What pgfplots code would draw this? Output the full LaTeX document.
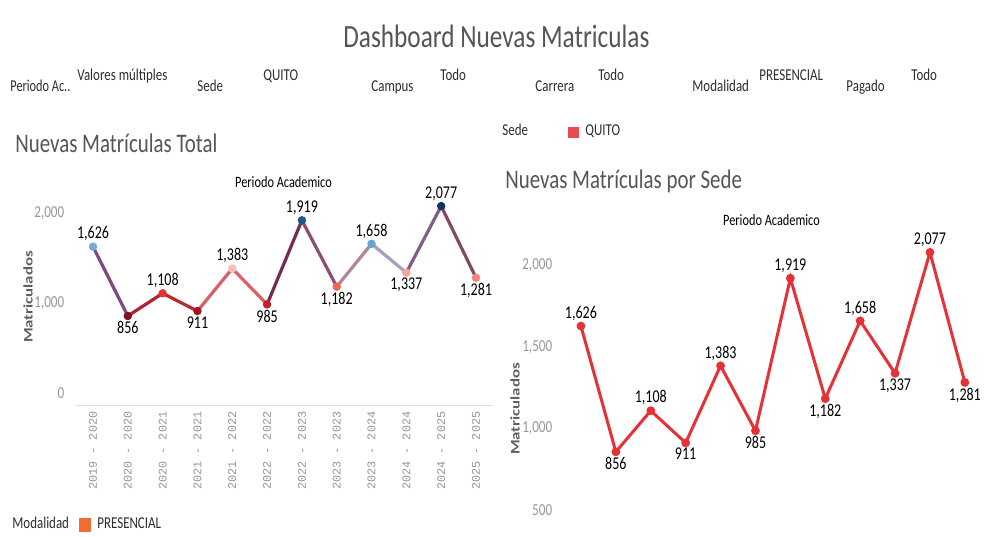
\documentclass[border=0pt]{standalone}
\usepackage{fontspec}
\setmainfont{Carlito}
\newfontfamily\monofont{Liberation Mono}
\usepackage{graphicx}
\usepackage{pgfplots}
\pgfplotsset{compat=1.18}
\usepackage{pgfplotstable}

\definecolor{quito}{RGB}{230,50,55}
\definecolor{quitoleg}{RGB}{235,75,80}
\definecolor{presencial}{RGB}{240,110,50}
\definecolor{titlegray}{RGB}{85,85,85}
\definecolor{tickgray}{RGB}{150,150,150}
\definecolor{labelgray}{RGB}{95,95,95}
\definecolor{filtertext}{RGB}{45,45,45}

% squeeze text horizontally, the reference is narrow
\newcommand{\sq}[1]{\scalebox{0.78}[1]{#1}}

\pgfplotstableread{
idx val
0 1626
1 856
2 1108
3 911
4 1383
5 985
6 1919
7 1182
8 1658
9 1337
10 2077
11 1281
}\matr

\pgfplotsset{
  % red-blue scale by value, for the points
  colormap={tabdiv}{
    rgb255(0cm)=(125,15,40) rgb255(10cm)=(195,30,45) rgb255(20cm)=(222,50,52)
    rgb255(27cm)=(238,105,85) rgb255(35cm)=(240,135,118) rgb255(43cm)=(245,188,185)
    rgb255(52cm)=(225,215,225) rgb255(63cm)=(115,172,212) rgb255(66cm)=(100,165,208)
    rgb255(87cm)=(32,88,138) rgb255(100cm)=(20,50,90)},
  % colour of each segment, a blend of its two ends
  colormap={segcols}{rgb255=(125,75,125) rgb255=(175,35,48) rgb255=(190,38,48)
    rgb255=(215,95,105) rgb255=(225,95,105) rgb255=(115,45,85) rgb255=(140,80,110)
    rgb255=(175,135,150) rgb255=(165,160,190) rgb255=(130,95,130) rgb255=(130,75,100)
    rgb255=(240,130,110)},
  dash/.style={
    scale only axis,
    xmin=-0.5, xmax=11.5,
    axis lines=left,
    axis line style={-},
    y axis line style={draw=none},
    tick style={draw=none},
    yticklabel={\sq{\pgfmathprintnumber[assume math mode=true,1000 sep={,}]{\tick}}},
    yticklabel style={font=\fontsize{8.4}{10}\selectfont, text=tickgray},
    clip=false,
    unbounded coords=discard,
  },
  % value labels: peaks (even index) above, dips (odd index) below
  lbl/.style={
    draw=none, mark=none, point meta=y,
    nodes near coords={\sq{\pgfmathprintnumber[assume math mode=true,1000 sep={,}]{\pgfplotspointmeta}}},
    every node near coord/.append style={anchor=#1, text=black,
      font=\fontsize{9}{10}\selectfont, inner sep=2.5pt},
  },
  even/.style={x filter/.expression={mod(\coordindex,2)==0 ? x : nan}},
  odd/.style={x filter/.expression={mod(\coordindex,2)==1 ? x : nan}},
}

\begin{document}
\begin{tikzpicture}
\path[use as bounding box] (0,0) rectangle (497.5pt,-268pt);

\begin{scope}[x=0.5pt,y=-0.5pt]
  \node[anchor=base west, inner sep=0, text=titlegray, font=\fontsize{16.2}{18}\selectfont] at (343,47) {\sq{Dashboard Nuevas Matriculas}};
  \node[anchor=base west, inner sep=0, text=titlegray, font=\fontsize{13.4}{15}\selectfont] at (15,152) {\sq{Nuevas Matrículas Total}};
  \node[anchor=base west, inner sep=0, text=titlegray, font=\fontsize{13.4}{15}\selectfont] at (505,188) {\sq{Nuevas Matrículas por Sede}};

  \begin{scope}[every node/.style={anchor=base west, inner sep=0, text=filtertext, font=\fontsize{8.3}{10}\selectfont}]
    \node at (10,91) {\scalebox{0.74}[1]{Periodo Ac..}};
    \node at (77,80) {\sq{Valores múltiples}};
    \node at (197,91) {\sq{Sede}};
    \node at (263,80) {\sq{QUITO}};
    \node at (371,91) {\sq{Campus}};
    \node at (440,80) {\sq{Todo}};
    \node at (535,91) {\sq{Carrera}};
    \node at (598,80) {\sq{Todo}};
    \node at (692,91) {\sq{Modalidad}};
    \node at (759,80) {\sq{PRESENCIAL}};
    \node at (846,91) {\sq{Pagado}};
    \node at (911,80) {\sq{Todo}};
    \node at (502,135) {\sq{Sede}};
    \node at (585,135) {\sq{QUITO}};
    \node at (12,528) {\sq{Modalidad}};
    \node at (97,528) {\sq{PRESENCIAL}};
  \end{scope}
  \fill[quitoleg] (568,127) rectangle (579,138);
  \fill[presencial] (79,518) rectangle (91,532);

  \node[anchor=base, inner sep=0, text=black, font=\fontsize{7.9}{9}\selectfont] at (283.5,187) {\sq{Periodo Academico}};
  \node[anchor=base, inner sep=0, text=black, font=\fontsize{7.9}{9}\selectfont] at (771.5,225) {\sq{Periodo Academico}};
  \node[rotate=90, inner sep=0, text=labelgray, font=\bfseries\fontsize{8.4}{10}\selectfont] at (28,297) {\scalebox{1}[0.78]{Matriculados}};
  \node[rotate=90, inner sep=0, text=labelgray, font=\bfseries\fontsize{8.4}{10}\selectfont] at (515,409) {\scalebox{1}[0.78]{Matriculados}};
\end{scope}

% left: total
\begin{axis}[dash,
  at={(37.8pt,-202.5pt)}, anchor=south west,
  width=208.9pt, height=105pt,
  ymin=-133, ymax=2200,
  ytick={0,1000,2000},
  x axis line style={draw=black!12},
  xtick={0,...,11},
  xticklabels={2019 - 2020,2020 - 2020,2020 - 2021,2021 - 2021,2021 - 2022,2022 - 2022,2022 - 2023,2023 - 2023,2023 - 2024,2024 - 2024,2024 - 2025,2025 - 2025},
  xticklabel style={rotate=90, anchor=east, font=\monofont\fontsize{5.9}{7}\selectfont, text=tickgray, inner sep=1pt},
  colormap name=tabdiv,
  point meta min=856, point meta max=2077,
]
\addplot[mesh, colormap name=segcols, colormap access=direct, shader=flat corner,
  point meta=\thisrow{idx}, line width=1.6pt] table[x=idx, y=val] {\matr};
\addplot[scatter, only marks, mark=*, mark size=1.9pt, point meta=y,
  scatter/use mapped color={draw=mapped color, fill=mapped color}] table[x=idx, y=val] {\matr};
\addplot[lbl=south, even] table[x=idx, y=val] {\matr};
\addplot[lbl=north, odd] table[x=idx, y=val] {\matr};
\end{axis}

% right: por sede
\begin{axis}[dash,
  at={(281.75pt,-264.8pt)}, anchor=south west,
  width=209.4pt, height=144.55pt,
  ymin=380, ymax=2150,
  ytick={500,1000,1500,2000},
  x axis line style={draw=none},
  xtick=\empty,
]
\addplot[color=quito, line width=1.5pt, mark=*, mark size=1.4pt] table[x=idx, y=val] {\matr};
\addplot[lbl=south, even] table[x=idx, y=val] {\matr};
\addplot[lbl=north, odd] table[x=idx, y=val] {\matr};
\end{axis}
\end{tikzpicture}
\end{document}
